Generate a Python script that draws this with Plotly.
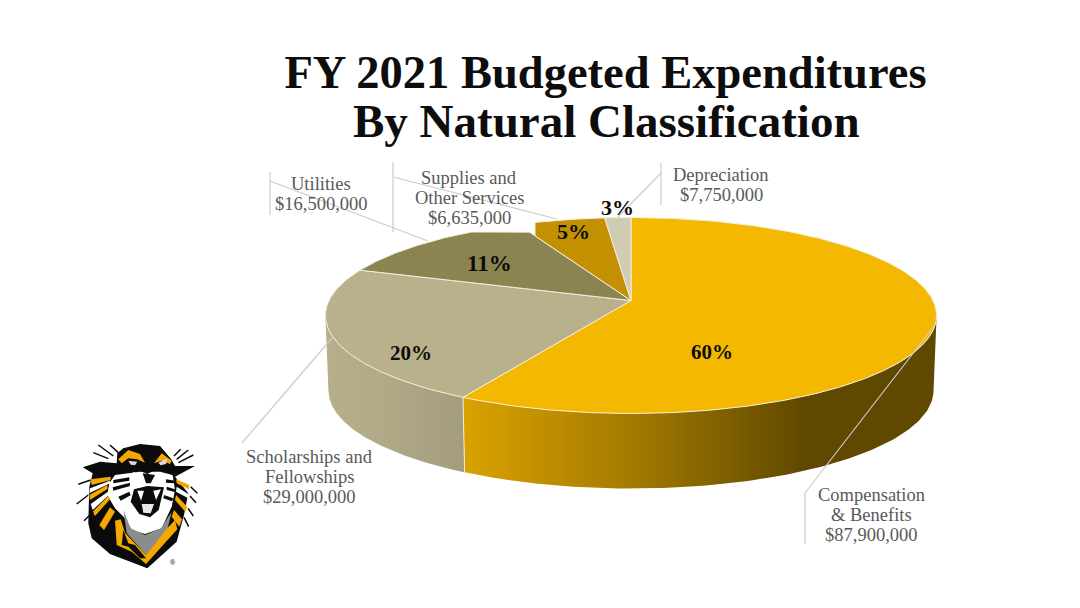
import numpy as np
import plotly.graph_objects as go

# ---- data ----
categories = [["Compensation", "& Benefits"], ["Scholarships and", "Fellowships"], ["Utilities"],
              ["Supplies and", "Other Services"], ["Depreciation"]]
amounts = ["$87,900,000", "$29,000,000", "$16,500,000", "$6,635,000", "$7,750,000"]
percent_labels = ["60%", "20%", "11%", "5%", "3%"]
slice_shares = [58.0, 22.4, 12.6, 5.4, 1.6]   # apparent share of the drawn pie
slice_colors = ["#F5B800", "#B8B18B", "#8B8350", "#C29000", "#CFCBB5"]

# ---- projection of the pie into the plot's pixel-like axes ----
CX, CY, A, B, K = 631, 300.5, 302, 95.7, 0.153
DEPTH, BOTTOM_SCALE = 75, 0.99
RIM = "#F3EEDC"


def project(theta_deg, scale=1.0, drop=0.0):
    t = np.radians(np.asarray(theta_deg, dtype=float))
    X, Y = np.sin(t), np.cos(t)
    w = 1 + K * Y
    return CX + scale * A * X / w, CY - B * Y / w + drop


edges = np.concatenate([[0], np.cumsum(slice_shares)]) * 360 / sum(slice_shares)
clips = [None, None, ("y", 232), ("x", 535), None]

fig = go.Figure()

# side walls
wall_specs = [
    (0, 99, [[0, "#DBA200"], [0.35, "#A47B00"], [0.72, "#5F4800"], [1, "#5F4800"]], "#8a6a00"),
    (1, 261, [[0, "#B7AF8A"], [0.5, "#AFA887"], [1, "#A39C7D"]], "#AFA887"),
]
for idx, limit, scale, col in wall_specs:
    lo, hi = (limit, edges[1]) if idx == 0 else (edges[1], limit)
    th = np.linspace(lo, hi, 120)
    xt, yt = project(th)
    xb, yb = project(th[::-1], BOTTOM_SCALE, DEPTH)
    fig.add_trace(go.Scatter(
        x=np.r_[xt, xb, xt[0]], y=np.r_[yt, yb, yt[0]], mode="lines", fill="toself",
        line=dict(width=0), fillcolor=col,
        fillgradient=dict(type="horizontal", colorscale=scale),
        hoverinfo="skip", showlegend=False))

# seam between the two visible walls
sx0, sy0 = project(edges[1])
sx1, sy1 = project(edges[1], BOTTOM_SCALE, DEPTH)
fig.add_trace(go.Scatter(x=[sx0, sx1], y=[sy0, sy1], mode="lines",
                         line=dict(color=RIM, width=1), hoverinfo="skip", showlegend=False))

# top faces
for i in range(len(slice_shares)):
    th = np.linspace(edges[i], edges[i + 1], max(int(edges[i + 1] - edges[i]) * 2, 12))
    x, y = project(th)
    f = np.linspace(0, 1, 60)
    xs = np.r_[CX + (x[0] - CX) * f, x, x[-1] + (CX - x[-1]) * f]
    ys = np.r_[CY + (y[0] - CY) * f, y, y[-1] + (CY - y[-1]) * f]
    if clips[i]:
        if clips[i][0] == "y":
            ys = np.maximum(ys, clips[i][1])
        else:
            xs = np.maximum(xs, clips[i][1])
    fig.add_trace(go.Scatter(x=xs, y=ys, mode="lines", fill="toself", fillcolor=slice_colors[i],
                             line=dict(color=RIM, width=1), name=percent_labels[i],
                             hoverinfo="name", showlegend=False))


# ---- leader lines ----
LEADER = "#CCCCCC"
leaders = [
    (270, 172, 270, 215), (270, 181, 428, 241),
    (393, 162, 393, 232), (393, 177, 557, 219),
    (661, 163, 661, 205), (661, 173, 618, 217),
    (805, 493, 805, 544), (805, 493, 935, 325),
    (242, 443, 332, 338),
]
shapes = [dict(type="line", xref="x", yref="y", x0=a, y0=b, x1=c, y1=d,
               line=dict(color=LEADER, width=1.2), layer="above") for a, b, c, d in leaders]


def lx(v): return 60 + v / 3
def ly(v): return 430 + v / 3


def poly(points, fill):
    p = "M " + " L ".join(f"{lx(a):.1f},{ly(b):.1f}" for a, b in points) + " Z"
    return dict(type="path", xref="x", yref="y", path=p, fillcolor=fill,
                line=dict(width=0), layer="above")


BK, GD, GR, WH = "#0B0B0B", "#F5A800", "#8C8C8C", "#FFFFFF"
logo = [
    poly([(190, 55), (240, 42), (300, 48), (335, 90), (345, 108), (405, 108), (345, 140), (385, 190), (372, 255),
          (350, 335), (262, 415), (150, 372), (95, 325), (85, 280), (88, 170), (98, 130), (68, 112), (120, 95),
          (170, 100), (172, 70)], BK),
    # white face surround
    poly([(165, 135), (148, 160), (142, 195), (165, 235), (195, 265), (215, 300), (255, 312), (305, 295), (335, 230),
          (345, 180), (338, 135), (300, 125), (240, 125)], WH),
    # chest
    poly([(190, 240), (212, 295), (255, 315), (303, 295), (335, 245), (322, 300), (258, 375), (200, 310)], GR),
    # gold V
    poly([(165, 272), (182, 268), (196, 310), (258, 375), (322, 295), (345, 270), (352, 298), (258, 402), (215, 365),
          (170, 345)], GD),
    poly([(190, 300), (205, 340), (225, 345), (258, 385), (240, 385), (205, 350), (185, 345)], BK),
    # gold stripes on the left
    poly([(92, 148), (152, 140), (152, 150), (95, 165)], GD),
    poly([(88, 195), (142, 165), (143, 176), (90, 210)], GD),
    poly([(98, 245), (145, 198), (150, 208), (105, 258)], GD),
    poly([(118, 285), (150, 232), (165, 245), (132, 300)], GD),
    # white gaps on the left
    poly([(90, 175), (150, 152), (150, 160), (88, 190)], WH),
    poly([(92, 222), (148, 182), (150, 192), (98, 240)], WH),
    # stripes on the right
    poly([(348, 148), (388, 165), (386, 178), (350, 160)], GD),
    poly([(348, 195), (382, 230), (376, 245), (345, 210)], GD),
    poly([(342, 240), (366, 268), (358, 290), (335, 260)], GD),
    poly([(350, 170), (385, 192), (385, 205), (348, 185)], WH),
    # forehead
    poly([(172, 125), (200, 112), (235, 120), (262, 132), (290, 118), (325, 118), (338, 138), (335, 90), (300, 50),
          (190, 55)], BK),
    # brow
    poly([(175, 88), (205, 60), (240, 72), (255, 98), (232, 88), (205, 85), (185, 100)], GD),
    poly([(282, 100), (305, 70), (335, 92), (330, 102), (305, 92)], GD),
    # eyes
    poly([(205, 92), (232, 95), (225, 106), (212, 104)], "#DADADA"),
    poly([(295, 98), (322, 85), (318, 102), (302, 106)], "#DADADA"),
    # muzzle and mouth
    poly([(218, 125), (262, 140), (305, 125), (288, 158), (318, 172), (296, 255), (262, 285), (228, 258), (208, 180),
          (235, 155)], WH),
    poly([(248, 130), (285, 135), (272, 160), (258, 160)], BK),
    poly([(222, 178), (262, 168), (312, 172), (296, 240), (270, 262), (238, 252), (212, 215)], BK),
    poly([(232, 182), (252, 182), (243, 212)], WH),
    poly([(280, 182), (303, 178), (288, 210)], WH),
    poly([(245, 222), (282, 222), (272, 250), (250, 248)], "#E8E8E8"),
    # cheek stripes
    poly([(160, 150), (208, 142), (208, 152), (160, 160)], BK),
    poly([(158, 172), (210, 158), (210, 168), (160, 182)], BK),
    poly([(175, 200), (208, 185), (212, 196), (182, 212)], BK),
    poly([(318, 148), (345, 152), (345, 160), (318, 158)], BK),
    poly([(320, 170), (345, 178), (345, 186), (320, 180)], BK),
    poly([(312, 195), (340, 205), (336, 214), (310, 205)], BK),
]
spikes = [(115, 45, 160, 78), (150, 45, 175, 68), (100, 68, 145, 86), (342, 78, 362, 58), (350, 88, 385, 60),
          (355, 98, 400, 75), (55, 163, 92, 150), (50, 222, 85, 195), (72, 272, 100, 245), (392, 170, 412, 190),
          (390, 198, 408, 218), (384, 235, 400, 258), (372, 262, 386, 290)]
logo_lines = [dict(type="line", xref="x", yref="y", x0=lx(a), y0=ly(b), x1=lx(c), y1=ly(d),
                   line=dict(color=BK, width=1.5), layer="above") for a, b, c, d in spikes]

# ---- text ----
SERIF = "Liberation Serif"
TEXT = "#595959"
ann = []


def add_text(x, y, text, size, color, bold=False):
    ann.append(dict(x=x, y=y, xref="x", yref="y", text=f"<b>{text}</b>" if bold else text, showarrow=False,
                    xanchor="center", yanchor="middle", align="center",
                    font=dict(family=SERIF, size=size, color=color)))


add_text(606, 121, "By Natural Classification", 47, "#0D0D0D", True)
label_xy = [(871, 495), (309, 457), (321, 184), (469, 178), (721, 175)]
LINE_STEP = 20
for (lxp, lyp), c, a in zip(label_xy, categories, amounts):
    for j, line in enumerate(c + [a]):
        add_text(lxp, lyp + j * LINE_STEP, line.replace("&", "&amp;"), 18.5, TEXT)
pct_xy = [(712, 352), (411, 353), (489, 263), (573, 231), (617, 207)]
pct_sizes = [21, 21, 23, 22, 22]
for (px, py), t, s in zip(pct_xy, percent_labels, pct_sizes):
    add_text(px, py, t, s, "#0D0D0D", True)
ann.append(dict(x=lx(338), y=ly(397), xref="x", yref="y", text="®", showarrow=False,
                font=dict(family="Liberation Sans", size=7, color=BK)))

fig.update_layout(
    width=1080, height=608, margin=dict(l=0, r=0, t=0, b=0), autosize=False,
    paper_bgcolor="white", plot_bgcolor="white", showlegend=False,
    title=dict(text="<b>FY 2021 Budgeted Expenditures</b>", x=605.5 / 1080, xanchor="center", y=1 - 72 / 608,
               yanchor="middle", font=dict(family=SERIF, size=46.5, color="#0D0D0D")),
    xaxis=dict(range=[0, 1080], visible=False, fixedrange=True),
    yaxis=dict(range=[608, 0], visible=False, fixedrange=True),
    shapes=shapes + logo + logo_lines,
    annotations=ann,
)
fig.write_html("out.html", config=dict(displayModeBar=False),
               post_script="document.body.style.margin='0';")
